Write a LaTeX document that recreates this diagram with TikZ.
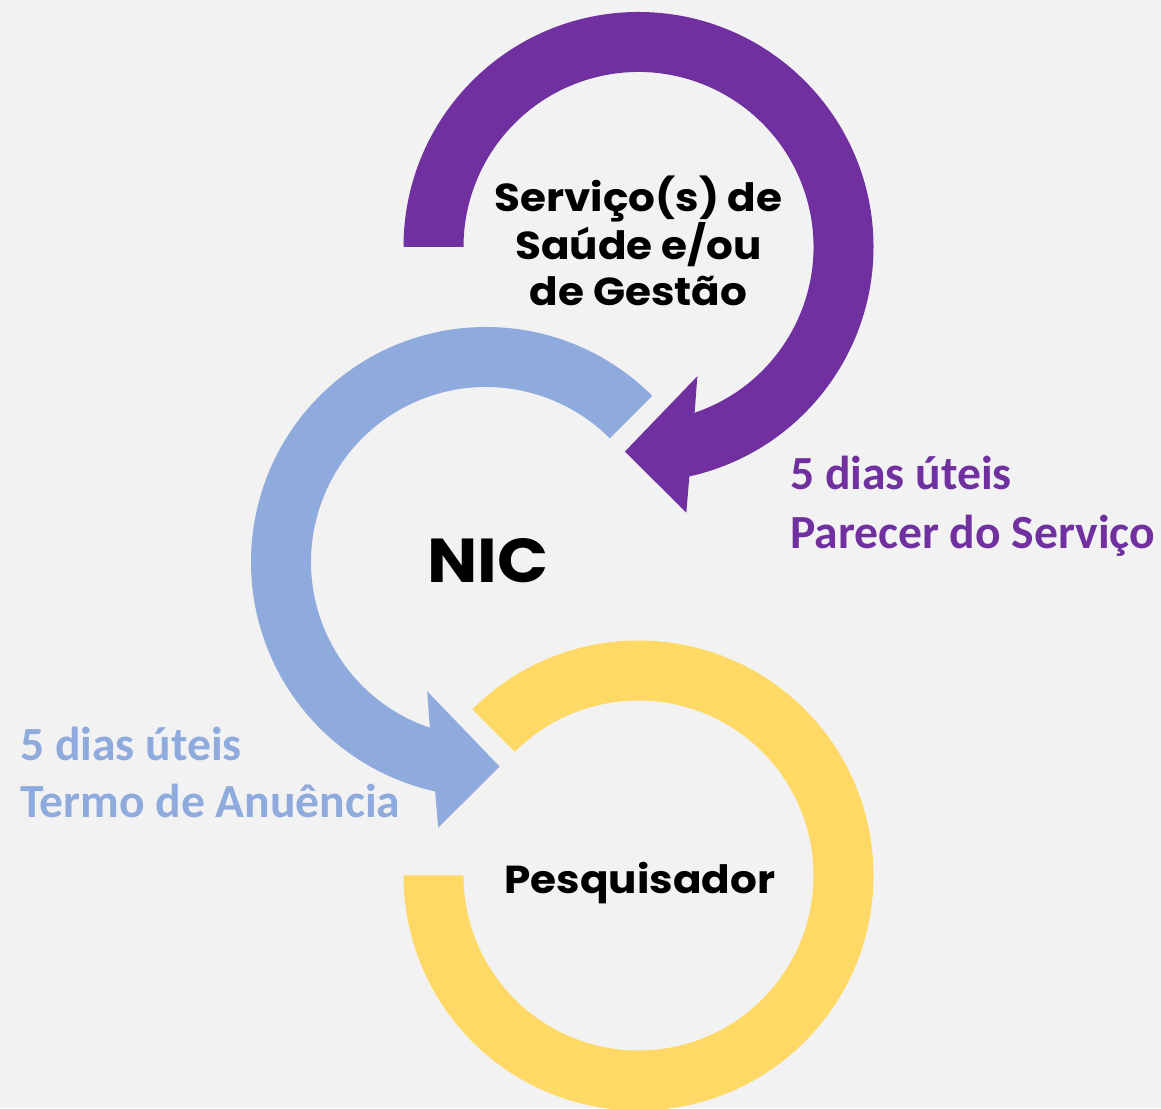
\documentclass[tikz,border=0pt]{standalone}
\usepackage{fontspec}
\setmainfont{Carlito}
\newfontfamily\headfont{Poppins}[FakeStretch=1.08]
\usetikzlibrary{positioning}

\definecolor{servpurple}{HTML}{7030A0}
\definecolor{nicblue}{HTML}{8FAADC}
\definecolor{pesqyellow}{HTML}{FFD966}
\definecolor{bggray}{HTML}{F2F2F2}

\begin{document}
\begin{tikzpicture}[
    x=1pt, y=1pt,
    heading/.style={font=\headfont\bfseries\fontsize{39}{46}\selectfont, align=center, inner sep=0pt},
    bignic/.style={font=\headfont\bfseries\fontsize{62}{62}\selectfont, inner sep=0pt, anchor=base},
    days/.style={font=\bfseries\fontsize{47.6}{58}\selectfont, inner sep=0pt, anchor=base west}
]

% Background
\fill[bggray] (0,0) rectangle (1161,1108);
\useasboundingbox (0,0) rectangle (1161,1108);

% Centres of the three rings
\coordinate (serv) at (638.5,861);
\coordinate (nic) at (486,546);
\coordinate (pesq) at (638.5,232.5);

% Rings
\fill[pesqyellow] (pesq) ++(135:235) arc[start angle=135, end angle=-180, radius=235]
    -- ++(60,0) arc[start angle=-180, end angle=135, radius=175] -- cycle;
\fill[nicblue] (nic) ++(45:235) arc[start angle=45, end angle=257.5, radius=235]
    -- ([shift={(259.8:270)}]nic) -- ([shift={(273.8:205)}]nic)
    -- ([shift={(245.5:142)}]nic) -- ([shift={(251.3:175)}]nic)
    arc[start angle=251.3, end angle=45, radius=175] -- cycle;
\fill[servpurple] (serv) ++(180:235) arc[start angle=180, end angle=-77.5, radius=235]
    -- ([shift={(-79.8:270)}]serv) -- ([shift={(-93.8:205)}]serv)
    -- ([shift={(-65.5:142)}]serv) -- ([shift={(-71.3:175)}]serv)
    arc[start angle=-71.3, end angle=180, radius=175] -- cycle;

% Nodes
\node[heading] (servtext) at (638.5,867) {Serviço(s) de\\Saúde e/ou\\de Gestão};
\node[bignic] (nictext) at (488,525.7) {NIC};
\node[heading, anchor=base] (pesqtext) at (639.7,214.7) {Pesquisador};

% Deadlines
\node[days, servpurple] (parecerA) at (790,618) {5 dias úteis};
\node[days, servpurple] (parecerB) at (790,559.7) {Parecer do Serviço};
\node[days, nicblue] (termoA) at (20,347.3) {5 dias úteis};
\node[days, nicblue] (termoB) at (20,290.7) {Termo de Anuência};

\end{tikzpicture}
\end{document}
